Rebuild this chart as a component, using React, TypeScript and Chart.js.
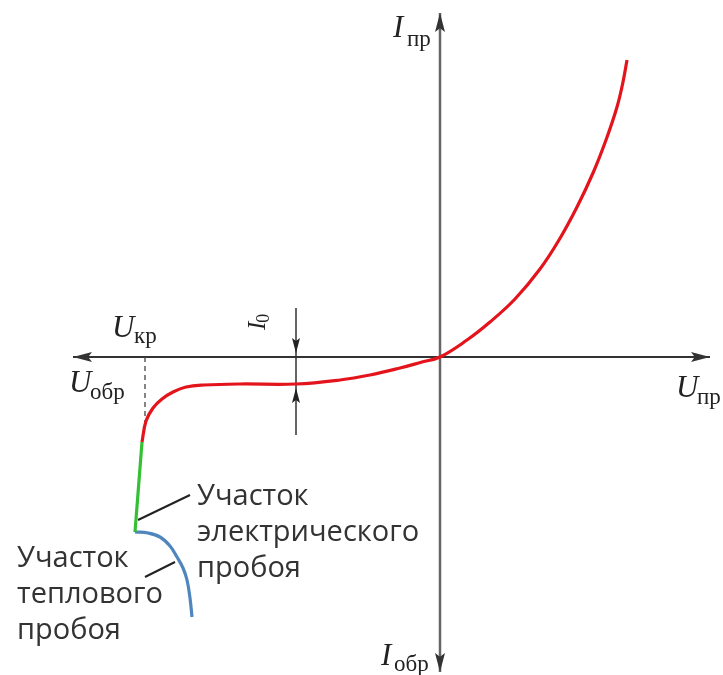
import React, { useEffect, useRef } from 'react';
import { Chart, registerables } from 'chart.js';

Chart.register(...registerables);

// Units: origin at the crossing of the axes, U to the right, I upwards.
const redU = [-298, -294, -287, -278, -267, -254, -236, -200, -144, -100, -70, -40, -18, 0, 27, 50, 75, 100, 119, 137, 153, 166, 177, 183, 187];
const redI = [-85, -64, -51, -42, -35, -30, -28, -27, -27, -23, -18, -11, -5, 0, 17, 35, 58, 88, 117, 150, 184, 217, 250, 275, 297];

const greenU = [-298, -305];
const greenI = [-85, -175];

const blueU = [-305, -292, -280, -270, -263, -257, -253, -250, -248];
const blueI = [-175, -176, -180, -189, -200, -211, -223, -241, -260];

const uAxisU = [-367, 270];
const iAxisI = [-315, 344];

const kneeU = [-295, -295];
const kneeI = [0, -66];

const i0U = [-144, -144];
const i0I = [49, -78];

const leaderElectricU = [-302, -250];
const leaderElectricI = [-163, -138];
const leaderThermalU = [-295, -265];
const leaderThermalI = [-220, -205];

const axisSymbols = ['I', 'I', 'U', 'U', 'U'];
const axisSubs = ['пр', 'обр', 'пр', 'обр', 'кр'];
const i0Symbol = 'I';
const i0Sub = '0';

const electricLabel = ['Участок', 'электрического', 'пробоя'];
const thermalLabel = ['Участок', 'теплового', 'пробоя'];

const pts = (xs: number[], ys: number[]) => xs.map((x, i) => ({ x, y: ys[i] }));

export default function App() {
  const ref = useRef<HTMLCanvasElement | null>(null);

  useEffect(() => {
    if (!ref.current) return;

    const arrow = (ctx: CanvasRenderingContext2D, x: number, y: number, dx: number, dy: number, len: number, hw: number, color: string) => {
      const px = -dy, py = dx;
      ctx.beginPath();
      ctx.moveTo(x, y);
      ctx.lineTo(x - dx * len + px * hw, y - dy * len + py * hw);
      ctx.lineTo(x - dx * len * 0.8, y - dy * len * 0.8);
      ctx.lineTo(x - dx * len - px * hw, y - dy * len - py * hw);
      ctx.closePath();
      ctx.fillStyle = color;
      ctx.fill();
    };

    // anchors (data units) for [symbol, subscript]
    const symAnchors = [
      [[-47, 320], [-33, 311]],
      [[-59, -308], [-46, -314]],
      [[236, -40], [257, -47]],
      [[-371, -35], [-350, -42]],
      [[-328, 20], [-306, 14]],
    ];

    const deco = {
      id: 'deco',
      afterDatasetsDraw(chart: any) {
        const ctx: CanvasRenderingContext2D = chart.ctx;
        const xs = chart.scales.x;
        const ys = chart.scales.y;
        const X = (v: number) => xs.getPixelForValue(v);
        const Y = (v: number) => ys.getPixelForValue(v);
        ctx.save();
        // axis arrowheads
        arrow(ctx, X(uAxisU[0]), Y(0), -1, 0, 19, 5, '#333');
        arrow(ctx, X(uAxisU[1]), Y(0), 1, 0, 19, 5, '#333');
        arrow(ctx, X(0), Y(iAxisI[1]), 0, -1, 19, 5, '#333');
        arrow(ctx, X(0), Y(iAxisI[0]), 0, 1, 19, 5, '#333');
        // I0 arrows
        arrow(ctx, X(i0U[0]), Y(0) - 4, 0, 1, 15, 4, '#222');
        arrow(ctx, X(i0U[0]), Y(-27) + 4, 0, -1, 15, 4, '#222');

        // axis labels
        ctx.fillStyle = '#222';
        ctx.textBaseline = 'alphabetic';
        ctx.textAlign = 'left';
        axisSymbols.forEach((s, i) => {
          const [a, b] = symAnchors[i];
          ctx.font = 'italic 31px "Liberation Serif", serif';
          ctx.fillText(s, X(a[0]), Y(a[1]));
          ctx.font = '23px "Liberation Serif", serif';
          ctx.fillText(axisSubs[i], X(b[0]), Y(b[1]));
        });
        // rotated I0
        ctx.save();
        ctx.translate(X(-175), Y(27));
        ctx.rotate(-Math.PI / 2);
        ctx.font = 'italic 25px "Liberation Serif", serif';
        ctx.fillText(i0Symbol, 0, 0);
        const w = ctx.measureText(i0Symbol).width;
        ctx.font = '18px "Liberation Serif", serif';
        ctx.fillText(i0Sub, w - 1, 4);
        ctx.restore();

        // callouts
        ctx.font = '29px "Open Sans", sans-serif';
        ctx.fillStyle = '#333';
        electricLabel.forEach((t, i) => ctx.fillText(t, X(-243), Y(-148 - i * 36)));
        thermalLabel.forEach((t, i) => ctx.fillText(t, X(-423), Y(-210 - i * 36)));
        ctx.restore();
      },
    };

    const line = (data: any, color: string, width: number, extra: any = {}) => ({
      data,
      borderColor: color,
      borderWidth: width,
      pointRadius: 0,
      showLine: true,
      fill: false,
      ...extra,
    });

    const chart = new Chart(ref.current, {
      type: 'scatter',
      data: {
        datasets: [
          line(pts(redU, redI), '#e3141c', 3.2, { tension: 0.4 }),
          line(pts(greenU, greenI), '#33c033', 3.2),
          line(pts(blueU, blueI), '#4f86bd', 3.2, { tension: 0.4 }),
          line(pts(leaderElectricU, leaderElectricI), '#222', 2),
          line(pts(leaderThermalU, leaderThermalI), '#222', 2),
          line(pts(kneeU, kneeI), '#444', 1.3, { borderDash: [5, 4] }),
          line(pts(i0U, i0I), '#333', 1.5),
          line(pts(uAxisU, [0, 0]), '#333', 2),
          line(pts([0, 0], iAxisI), '#666', 2.5),
        ],
      },
      options: {
        responsive: false,
        maintainAspectRatio: false,
        animation: false,
        events: [],
        layout: { padding: 0 },
        plugins: { legend: { display: false }, tooltip: { enabled: false }, title: { display: false } },
        scales: {
          x: { type: 'linear', min: -440, max: 283, display: false },
          y: { type: 'linear', min: -318, max: 357, display: false },
        },
      },
      plugins: [deco],
    });
    return () => chart.destroy();
  }, []);

  return (
    <div style={{ position: 'fixed', left: 0, top: 0, width: 723, height: 675, background: '#fff' }}>
      <canvas ref={ref} width={723} height={675} style={{ width: 723, height: 675 }} />
    </div>
  );
}
